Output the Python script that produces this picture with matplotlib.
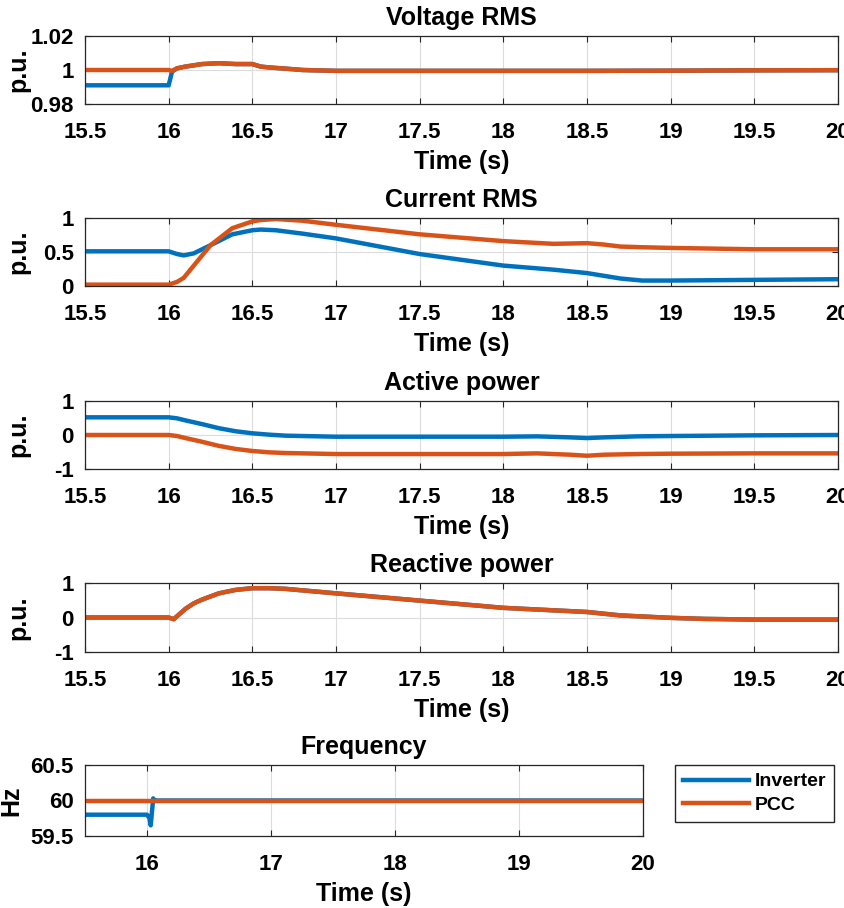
import numpy as np
import matplotlib
matplotlib.use("Agg")
import matplotlib.pyplot as plt

plt.rcParams['font.family'] = ['Liberation Sans', 'DejaVu Sans']
plt.rcParams['font.weight'] = 'bold'
plt.rcParams['axes.titleweight'] = 'bold'
plt.rcParams['axes.labelweight'] = 'bold'

BLUE = '#0072BD'
ORANGE = '#D95319'

# Voltage RMS
v_t = [15.5, 16.0, 16.02, 16.05, 16.1, 16.2, 16.3, 16.4, 16.5, 16.55, 16.6, 16.7, 16.8,
       17.0, 17.5, 18.0, 18.5, 19.0, 19.5, 20.0]
v_inv = [0.991, 0.991, 0.999, 1.001, 1.002, 1.0035, 1.004, 1.0035, 1.0035, 1.002, 1.0015,
         1.0008, 1.0, 0.9995, 0.9995, 0.9995, 0.9995, 0.9996, 0.9998, 0.9999]
v_pcc = [1.0, 1.0, 0.9995, 1.001, 1.002, 1.0035, 1.004, 1.0035, 1.0035, 1.002, 1.0015,
         1.0008, 1.0, 0.9995, 0.9995, 0.9995, 0.9995, 0.9996, 0.9998, 0.9999]

# Current RMS
c_t = [15.5, 16.0, 16.05, 16.09, 16.15, 16.25, 16.38, 16.5, 16.55, 16.64, 16.8, 17.0,
       17.5, 18.0, 18.3, 18.5, 18.6, 18.7, 18.83, 19.0, 19.5, 20.0]
c_inv = [0.51, 0.51, 0.47, 0.45, 0.48, 0.6, 0.76, 0.82, 0.83, 0.82, 0.77, 0.70,
         0.47, 0.30, 0.24, 0.19, 0.15, 0.11, 0.08, 0.08, 0.09, 0.10]
c_pcc = [0.02, 0.02, 0.06, 0.12, 0.3, 0.6, 0.85, 0.95, 0.97, 0.985, 0.96, 0.90,
         0.76, 0.66, 0.62, 0.63, 0.61, 0.58, 0.57, 0.56, 0.54, 0.54]

# Active power
p_t = [15.5, 16.0, 16.05, 16.1, 16.2, 16.3, 16.4, 16.5, 16.6, 16.7, 17.0, 17.5, 18.0,
       18.2, 18.4, 18.5, 18.6, 18.8, 19.0, 19.5, 20.0]
p_inv = [0.52, 0.52, 0.49, 0.43, 0.32, 0.2, 0.11, 0.05, 0.01, -0.02, -0.05, -0.05, -0.05,
         -0.04, -0.07, -0.09, -0.07, -0.04, -0.03, -0.01, 0.0]
p_pcc = [0.0, 0.0, -0.03, -0.09, -0.2, -0.32, -0.41, -0.47, -0.51, -0.53, -0.56, -0.56, -0.56,
         -0.54, -0.58, -0.61, -0.58, -0.56, -0.55, -0.54, -0.54]

# Reactive power (inverter and PCC overlap)
q_t = [15.5, 16.0, 16.03, 16.1, 16.15, 16.2, 16.3, 16.4, 16.5, 16.6, 16.7, 17.0, 17.5,
       18.0, 18.5, 18.7, 19.0, 19.2, 19.5, 20.0]
q_inv = [0.0, 0.0, -0.05, 0.25, 0.41, 0.52, 0.7, 0.8, 0.85, 0.85, 0.83, 0.7, 0.49,
         0.28, 0.16, 0.06, -0.01, -0.04, -0.06, -0.06]
q_pcc = q_inv

# Frequency
f_t = [15.5, 16.0, 16.02, 16.03, 16.05, 16.06, 20.0]
f_inv = [59.8, 59.8, 59.75, 59.65, 60.03, 60.0, 60.0]
f_pcc = [60.0, 60.0, 60.0, 60.0, 60.0, 60.0, 60.0]

W, H = 845, 908
fig = plt.figure(figsize=(W / 100, H / 100), dpi=100)


def px_axes(left, top, right, bottom):
    return fig.add_axes([left / W, 1 - bottom / H, (right - left) / W, (bottom - top) / H])


panels = [
    ("Voltage RMS", "p.u.", v_t, v_inv, v_pcc, (0.98, 1.02), [0.98, 1.0, 1.02], ["0.98", "1", "1.02"], (36, 104)),
    ("Current RMS", "p.u.", c_t, c_inv, c_pcc, (0, 1), [0, 0.5, 1], ["0", "0.5", "1"], (218, 286)),
    ("Active power", "p.u.", p_t, p_inv, p_pcc, (-1, 1), [-1, 0, 1], ["-1", "0", "1"], (401, 469)),
    ("Reactive power", "p.u.", q_t, q_inv, q_pcc, (-1, 1), [-1, 0, 1], ["-1", "0", "1"], (583, 652)),
    ("Frequency", "Hz", f_t, f_inv, f_pcc, (59.5, 60.5), [59.5, 60, 60.5], ["59.5", "60", "60.5"], (765, 836)),
]

x_ticks = [15.5, 16, 16.5, 17, 17.5, 18, 18.5, 19, 19.5, 20]
x_labels = ["15.5", "16", "16.5", "17", "17.5", "18", "18.5", "19", "19.5", "20"]

for i, (title, ylab, t, inv, pcc, ylim, yt, ytl, (top, bot)) in enumerate(panels):
    right = 643 if i == 4 else 838
    ax = px_axes(85, top, right, bot)
    l1, = ax.plot(t, inv, color=BLUE, lw=3.2, label="Inverter")
    l2, = ax.plot(t, pcc, color=ORANGE, lw=3.2, label="PCC")
    ax.set_xlim(15.5, 20)
    ax.set_ylim(*ylim)
    if i == 4:
        ax.set_xticks([16, 17, 18, 19, 20])
        ax.set_xticklabels(["16", "17", "18", "19", "20"])
    else:
        ax.set_xticks(x_ticks)
        ax.set_xticklabels(x_labels)
    ax.set_yticks(yt)
    ax.set_yticklabels(ytl)
    ax.grid(True, color='#dcdcdc', lw=0.8)
    ax.set_axisbelow(True)
    ax.tick_params(direction='in', length=4, width=0.8, top=True, right=True,
                   labelsize=16, colors='#262626', labelcolor='black')
    ax.tick_params(axis='x', pad=13)
    ax.tick_params(axis='y', pad=8)
    for s in ax.spines.values():
        s.set_color('#262626')
        s.set_linewidth(0.9)
    ax.set_title(title, fontsize=18, pad=8)
    ax.set_xlabel("Time (s)", fontsize=18, labelpad=5)
    ax.set_ylabel(ylab, fontsize=18)
    lab_x = 23 if i == 4 else 30
    ax.yaxis.set_label_coords(lab_x / W, 1 - (top + bot) / 2 / H, transform=fig.transFigure)

    if i == 4:
        fig.legend(handles=[l1, l2], loc='upper left',
                   bbox_to_anchor=(675 / W, 1 - 765 / H), borderaxespad=0,
                   fontsize=14, fancybox=False, edgecolor='#262626',
                   handlelength=3.4, handletextpad=0.3, framealpha=1,
                   borderpad=0.4, labelspacing=0.3)

fig.savefig("out.png", dpi=100)
